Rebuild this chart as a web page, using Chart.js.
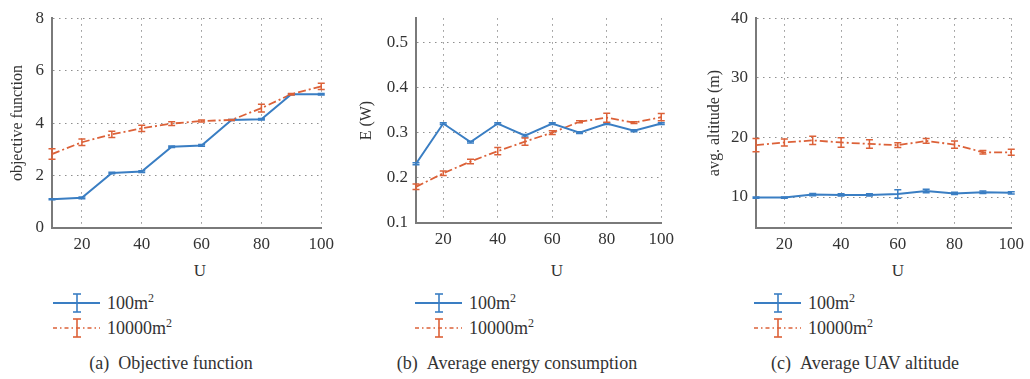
<!DOCTYPE html>
<html>
<head>
<meta charset="utf-8">
<script src="https://cdn.jsdelivr.net/npm/chart.js@4.4.1/dist/chart.umd.min.js"></script>
<style>
  body { margin: 0; background: #fff; width: 1030px; height: 379px; position: relative; overflow: hidden;
         font-family: "Liberation Serif", "DejaVu Serif", serif; color: #333; }
  canvas { position: absolute; top: 0; }
  .xt { position: absolute; top: 261px; font-size: 17px; line-height: 20px; transform: translateX(-50%); }
  .leg { position: absolute; height: 22px; font-size: 18px; line-height: 22px; }
  .leg svg { position: absolute; left: 0; top: 0; }
  .leg span { position: absolute; left: 54px; top: 0; white-space: nowrap; }
  .leg sup { font-size: 12px; vertical-align: 7px; line-height: 0; }
  .cap { position: absolute; top: 352px; font-size: 18px; line-height: 22px; transform: translateX(-50%); white-space: nowrap; }
</style>
</head>
<body>
<canvas id="chartA" width="340" height="256" style="left:0"></canvas>
<canvas id="chartB" width="340" height="256" style="left:340px"></canvas>
<canvas id="chartC" width="350" height="256" style="left:680px"></canvas>
<div id="extras"></div>
<script>
// x values (number of users U)
const users = [10, 20, 30, 40, 50, 60, 70, 80, 90, 100];
const xTicks = [20, 40, 60, 80, 100];
const seriesNames = ['100m', '10000m'];

// (a) objective function
const objSmall = [1.1, 1.15, 2.1, 2.15, 3.1, 3.15, 4.12, 4.15, 5.1, 5.1];
const objSmallErr = [0.02, 0.03, 0.03, 0.03, 0.03, 0.03, 0.02, 0.03, 0.02, 0.03];
const objLarge = [2.82, 3.27, 3.57, 3.8, 3.98, 4.08, 4.12, 4.57, 5.1, 5.4];
const objLargeErr = [0.2, 0.12, 0.12, 0.12, 0.07, 0.04, 0.02, 0.15, 0.03, 0.12];
const objTicks = [0, 2, 4, 6, 8];

// (b) average energy consumption
const energySmall = [0.231, 0.32, 0.279, 0.32, 0.293, 0.32, 0.3, 0.32, 0.304, 0.32];
const energySmallErr = [0.002, 0.002, 0.002, 0.002, 0.003, 0.002, 0.002, 0.002, 0.002, 0.002];
const energyLarge = [0.18, 0.21, 0.236, 0.259, 0.28, 0.3, 0.324, 0.333, 0.322, 0.334];
const energyLargeErr = [0.006, 0.005, 0.005, 0.008, 0.008, 0.004, 0.002, 0.01, 0.002, 0.008];
const energyTicks = [0.1, 0.2, 0.3, 0.4, 0.5];

// (c) average UAV altitude
const altSmall = [9.9, 9.9, 10.4, 10.35, 10.35, 10.5, 11.0, 10.6, 10.8, 10.7];
const altSmallErr = [0.1, 0.1, 0.2, 0.2, 0.2, 0.7, 0.3, 0.2, 0.2, 0.2];
const altLarge = [18.7, 19.15, 19.5, 19.15, 18.9, 18.7, 19.4, 18.8, 17.5, 17.5];
const altLargeErr = [1.1, 0.6, 0.7, 0.8, 0.7, 0.4, 0.4, 0.6, 0.3, 0.5];
const altTicks = [10, 20, 30, 40];

const BLUE = '#3a7ec3';
const ORANGE = '#dc6138';
const TEXT = '#333';
const FONT = '"Liberation Serif", "DejaVu Serif", serif';

// draws vertical error bars with caps for every dataset that carries an errors array
const errorBars = {
    id: 'errorBars',
    afterDatasetsDraw(chart) {
        const ctx = chart.ctx;
        const xs = chart.scales.x, ys = chart.scales.y;
        chart.data.datasets.forEach(ds => {
            if (!ds.errors) return;
            ctx.save();
            ctx.strokeStyle = ds.borderColor;
            ctx.lineWidth = 1.5;
            ds.data.forEach((p, i) => {
                const e = ds.errors[i];
                const x = xs.getPixelForValue(p.x);
                const y1 = ys.getPixelForValue(p.y - e);
                const y2 = ys.getPixelForValue(p.y + e);
                ctx.beginPath();
                ctx.moveTo(x, y1); ctx.lineTo(x, y2);
                ctx.moveTo(x - 3.5, y1); ctx.lineTo(x + 3.5, y1);
                ctx.moveTo(x - 3.5, y2); ctx.lineTo(x + 3.5, y2);
                ctx.stroke();
            });
            ctx.restore();
        });
    }
};

function toPoints(vals) {
    return users.map((u, i) => ({ x: u, y: vals[i] }));
}

function makePanel(id, cfg) {
    const canvas = document.getElementById(id);
    const W = canvas.width, H = canvas.height;
    return new Chart(canvas, {
        type: 'line',
        data: {
            datasets: [
                {
                    label: seriesNames[0],
                    data: toPoints(cfg.small),
                    errors: cfg.smallErr,
                    borderColor: BLUE,
                    borderWidth: 2,
                    pointRadius: 0,
                    tension: 0
                },
                {
                    label: seriesNames[1],
                    data: toPoints(cfg.large),
                    errors: cfg.largeErr,
                    borderColor: ORANGE,
                    borderWidth: 1.8,
                    borderDash: [8, 3, 2, 3],
                    pointRadius: 0,
                    tension: 0
                }
            ]
        },
        options: {
            responsive: false,
            animation: false,
            layout: { padding: { left: 0, right: W - cfg.right, top: cfg.top, bottom: 0 } },
            plugins: { legend: { display: false }, tooltip: { enabled: false } },
            scales: {
                x: {
                    type: 'linear',
                    min: 10,
                    max: 100,
                    afterBuildTicks: s => { s.ticks = xTicks.map(v => ({ value: v })); },
                    afterFit: s => { s.height = H - cfg.bottom; },
                    grid: { color: '#8f8f8f', lineWidth: 1, drawTicks: false },
                    border: { color: '#7a7a7a', width: 2, dash: [1.5, 4.5] },
                    ticks: { color: TEXT, padding: 6, font: { family: FONT, size: 17 }, maxRotation: 0 }
                },
                y: {
                    min: cfg.min,
                    max: cfg.max,
                    afterBuildTicks: s => { s.ticks = cfg.ticks.map(v => ({ value: v })); },
                    afterFit: s => { s.width = cfg.left; },
                    grid: { color: '#8f8f8f', lineWidth: 1, drawTicks: false },
                    border: { color: '#7a7a7a', width: 2, dash: [1.5, 4.5] },
                    ticks: { color: TEXT, padding: 8, font: { family: FONT, size: 17 },
                             callback: v => String(v) },
                    title: { display: true, text: cfg.yTitle, color: TEXT,
                             font: { family: FONT, size: 16 }, padding: { top: cfg.titlePad, bottom: 0 } }
                }
            }
        },
        plugins: [errorBars]
    });
}

makePanel('chartA', { small: objSmall, smallErr: objSmallErr, large: objLarge, largeErr: objLargeErr,
    min: 0, max: 8, ticks: objTicks, yTitle: 'objective function',
    left: 52, right: 322, top: 11, bottom: 228, titlePad: 8 });
makePanel('chartB', { small: energySmall, smallErr: energySmallErr, large: energyLarge, largeErr: energyLargeErr,
    min: 0.1, max: 0.553, ticks: energyTicks, yTitle: 'E (W)',
    left: 76, right: 328, top: 8, bottom: 223, titlePad: 17 });
makePanel('chartC', { small: altSmall, smallErr: altSmallErr, large: altLarge, largeErr: altLargeErr,
    min: 4.8, max: 40, ticks: altTicks, yTitle: 'avg. altitude (m)',
    left: 76, right: 333, top: 12, bottom: 228, titlePad: 25 });

// x titles, legends and captions as HTML text
const panels = [
    { u: 200, legX: 53, cap: 171, caption: '(a)\u2002Objective function' },
    { u: 557, legX: 415, cap: 517, caption: '(b)\u2002Average energy consumption' },
    { u: 898, legX: 754, cap: 865, caption: '(c)\u2002Average UAV altitude' }
];

const glyph = (color, dash) =>
    `<svg width="48" height="22"><g stroke="${color}" stroke-width="1.6" fill="none">` +
    `<line x1="0" y1="11" x2="47" y2="11" ${dash ? 'stroke-dasharray="4,3,1.5,3"' : 'stroke-width="2"'}/>` +
    `<line x1="24" y1="2" x2="24" y2="20"/><line x1="20" y1="2" x2="28" y2="2"/>` +
    `<line x1="20" y1="20" x2="28" y2="20"/></g></svg>`;

let html = '';
panels.forEach(p => {
    html += `<div class="xt" style="left:${p.u}px">U</div>`;
    html += `<div class="leg" style="left:${p.legX}px;top:292px">${glyph(BLUE, false)}<span>${seriesNames[0]}<sup>2</sup></span></div>`;
    html += `<div class="leg" style="left:${p.legX}px;top:317px">${glyph(ORANGE, true)}<span>${seriesNames[1]}<sup>2</sup></span></div>`;
    html += `<div class="cap" style="left:${p.cap}px">${p.caption}</div>`;
});
document.getElementById('extras').innerHTML = html;
</script>
</body>
</html>
